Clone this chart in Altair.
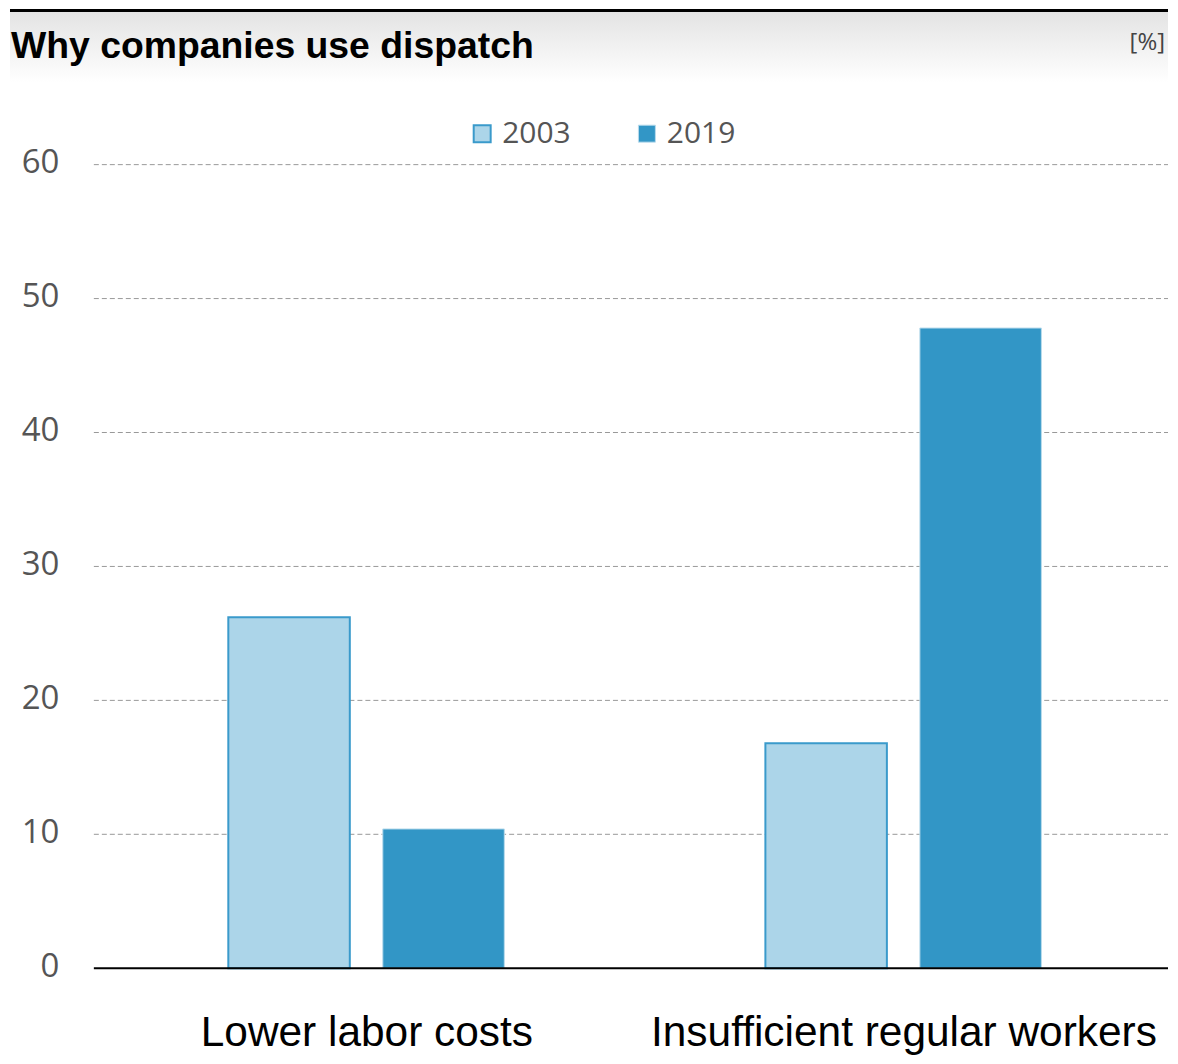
import altair as alt
import pandas as pd

categories = ["Lower labor costs", "Insufficient regular workers"]
years = ["2003", "2019"]
values_2003 = [26.2, 16.8]
values_2019 = [10.4, 47.8]
y_ticks = [0, 10, 20, 30, 40, 50, 60]
title_text = "Why companies use dispatch"
unit_text = "[%]"

rows = []
for i, c in enumerate(categories):
    rows.append({"category": c, "year": years[0], "value": values_2003[i]})
    rows.append({"category": c, "year": years[1], "value": values_2019[i]})
df = pd.DataFrame(rows)
grid_df = pd.DataFrame({"t": y_ticks[1:]})

W = 1076
H = 805

LIGHT = "#acd5e9"
DARK = "#3296c6"
EDGE = "#3a9acb"

one = pd.DataFrame({"a": [0]})

gradient = alt.Gradient(
    gradient="linear",
    stops=[alt.GradientStop(color="#e3e3e3", offset=0),
           alt.GradientStop(color="#ffffff", offset=1)],
    x1=0, x2=0, y1=0, y2=1,
)

header_bg = alt.Chart(one).mark_rect(fill=gradient).encode(
    x=alt.value(-84), x2=alt.value(W), y=alt.value(-154), y2=alt.value(-82)
)
header_line = alt.Chart(one).mark_rule(color="#000000", strokeWidth=3).encode(
    x=alt.value(-84), x2=alt.value(W), y=alt.value(-154.5)
)
title = alt.Chart(one).mark_text(
    text=title_text, align="left", baseline="middle", font="Liberation Sans",
    fontWeight="bold", fontSize=37.4, color="#000000"
).encode(x=alt.value(-83), y=alt.value(-118))
unit = alt.Chart(one).mark_text(
    text=unit_text, align="right", baseline="middle", font="Open Sans",
    fontSize=24, color="#444444"
).encode(x=alt.value(1073), y=alt.value(-122))

yscale = alt.Scale(domain=[0, 60], nice=False)
yaxis = alt.Axis(title=None, values=y_ticks, domain=False, ticks=False,
                 grid=False, labelPadding=35, labelFont="Open Sans",
                 labelFontSize=33, labelOffset=-2, labelColor="#555555")

grid = alt.Chart(grid_df).mark_rule(color="#999999", strokeWidth=1,
                                    strokeDash=[5, 3]).encode(
    y=alt.Y("t:Q", scale=yscale, axis=yaxis),
    x=alt.value(0), x2=alt.value(W),
)

bars = alt.Chart(df).mark_bar().encode(
    x=alt.X("category:N", sort=categories,
            scale=alt.Scale(paddingInner=0, paddingOuter=0),
            axis=alt.Axis(title=None, labelAngle=0, ticks=False, grid=False,
                          domain=False, labelOffset=4.5,
                          labelFont="Liberation Sans", labelFontSize=42.5,
                          labelColor="#000000", labelPadding=43,
                          labelBaseline="top", labelLimit=0)),
    xOffset=alt.XOffset("year:N", sort=years,
                        scale=alt.Scale(paddingInner=0.2136, paddingOuter=0.845,
                                        align=0.515)),
    y=alt.Y("value:Q", scale=yscale, axis=yaxis),
    fill=alt.Fill("year:N", sort=years,
                  scale=alt.Scale(domain=years, range=[LIGHT, DARK]),
                  legend=alt.Legend(title=None, orient="none", direction="horizontal",
                                    legendX=374, legendY=-46,
                                    symbolType="square", symbolSize=289,
                                    symbolStrokeWidth=2, labelOffset=5,
                                    columnPadding=61, labelFont="Open Sans",
                                    labelFontSize=30, labelColor="#555555")),
    stroke=alt.Stroke("year:N", sort=years,
                      scale=alt.Scale(domain=years, range=[EDGE, "#b9dbec"]),
                      legend=None),
    strokeWidth=alt.StrokeWidth("year:N", sort=years,
                                scale=alt.Scale(domain=years, range=[2, 1]),
                                legend=None),
)

zero_line = alt.Chart(one).mark_rule(color="#000000", strokeWidth=2).encode(
    x=alt.value(0), x2=alt.value(W), y=alt.value(H)
)

chart = alt.layer(header_bg, header_line, title, unit, grid, bars, zero_line).properties(
    width=W, height=H, padding=0
).configure_view(stroke=None)

chart.save("out.html", embed_options={"renderer": "svg", "actions": False})
